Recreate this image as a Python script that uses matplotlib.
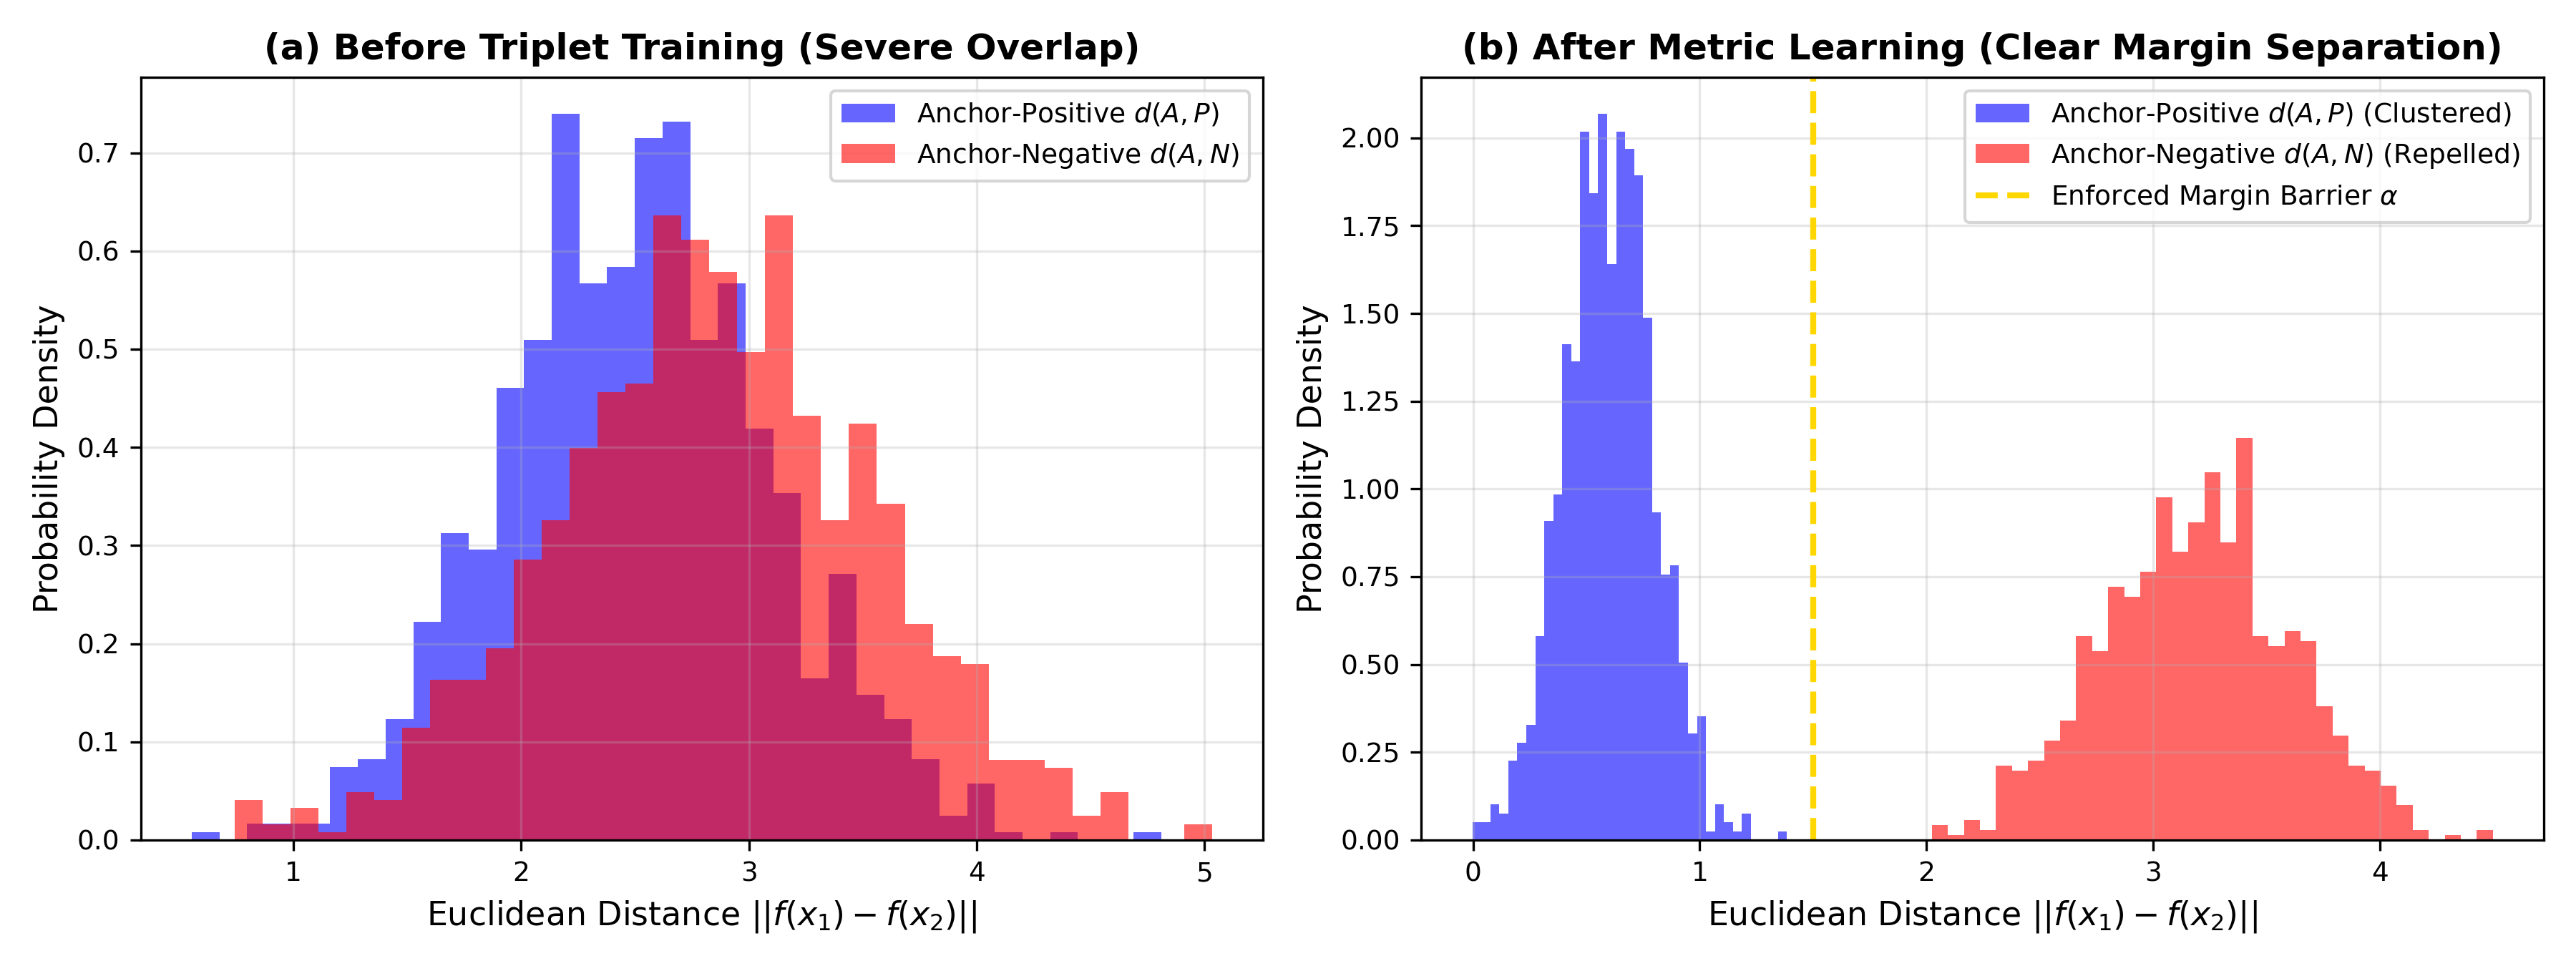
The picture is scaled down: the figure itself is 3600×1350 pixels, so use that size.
import numpy as np
import matplotlib
matplotlib.use("Agg")
import matplotlib.pyplot as plt

# histogram counts (1000 samples each, 35 bins)
before_pos_range = (0.553, 4.810)
before_pos_counts = [1, 0, 2, 2, 2, 9, 10, 15, 27, 38, 36, 56, 62, 90, 69, 71, 87, 89,
                     62, 69, 51, 43, 20, 33, 18, 15, 10, 3, 7, 1, 0, 1, 0, 0, 1]

before_neg_range = (0.741, 5.034)
before_neg_counts = [5, 2, 4, 1, 6, 5, 14, 20, 20, 24, 35, 40, 49, 56, 57, 78, 75, 71,
                     61, 78, 53, 40, 52, 42, 27, 23, 22, 10, 10, 9, 3, 6, 0, 0, 2]

after_pos_range = (-0.003, 1.384)
after_pos_counts = [2, 2, 4, 3, 9, 11, 13, 23, 36, 39, 56, 54, 80, 73, 82, 65, 80, 78,
                    75, 59, 37, 30, 31, 20, 12, 14, 1, 4, 2, 1, 3, 0, 0, 0, 1]

after_neg_range = (2.024, 4.498)
after_neg_counts = [3, 1, 4, 2, 15, 14, 16, 20, 24, 41, 38, 51, 49, 54, 69, 58, 64, 74,
                    60, 81, 41, 39, 42, 40, 27, 21, 15, 14, 11, 7, 2, 0, 1, 0, 2]

margin_alpha = 1.5


def draw_hist(ax, rng, counts, color, label):
    edges = np.linspace(rng[0], rng[1], len(counts) + 1)
    centers = (edges[:-1] + edges[1:]) / 2
    ax.hist(centers, bins=edges, weights=counts, density=True,
            alpha=0.6, color=color, label=label)


fig, axes = plt.subplots(1, 2, figsize=(12, 4.5))

ax = axes[0]
draw_hist(ax, before_pos_range, before_pos_counts, 'blue', 'Anchor-Positive $d(A, P)$')
draw_hist(ax, before_neg_range, before_neg_counts, 'red', 'Anchor-Negative $d(A, N)$')
ax.set_title('(a) Before Triplet Training (Severe Overlap)', fontsize=12, fontweight='bold')
ax.set_xlabel('Euclidean Distance $||f(x_1) - f(x_2)||$', fontsize=11)
ax.set_ylabel('Probability Density', fontsize=11)
ax.tick_params(labelsize=9)
ax.legend(fontsize=9)
ax.grid(True, alpha=0.3)

ax = axes[1]
draw_hist(ax, after_pos_range, after_pos_counts, 'blue', 'Anchor-Positive $d(A, P)$ (Clustered)')
draw_hist(ax, after_neg_range, after_neg_counts, 'red', 'Anchor-Negative $d(A, N)$ (Repelled)')
ax.axvline(margin_alpha, color='gold', linestyle='--', linewidth=2,
           label=r'Enforced Margin Barrier $\alpha$')
ax.set_title('(b) After Metric Learning (Clear Margin Separation)', fontsize=12, fontweight='bold')
ax.set_xlabel('Euclidean Distance $||f(x_1) - f(x_2)||$', fontsize=11)
ax.set_ylabel('Probability Density', fontsize=11)
ax.tick_params(labelsize=9)
ax.legend(fontsize=9)
ax.grid(True, alpha=0.3)

plt.subplots_adjust(left=0.0546, right=0.9875, bottom=0.1304, top=0.92, wspace=0.141)
plt.savefig('out.png', dpi=300)
